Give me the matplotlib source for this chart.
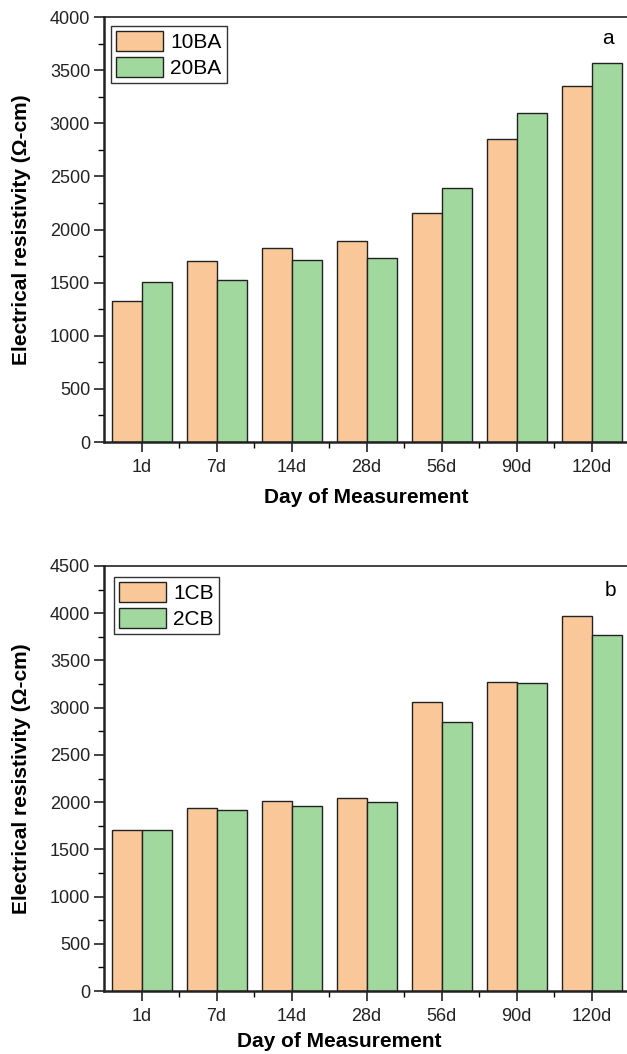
import matplotlib
matplotlib.use("Agg")
import matplotlib.pyplot as plt
import numpy as np

plt.rcParams['font.family'] = ['Liberation Sans', 'DejaVu Sans']

days = ["1d", "7d", "14d", "28d", "56d", "90d", "120d"]

# Panel a
a_labels = ["10BA", "20BA"]
a_10BA = [1324, 1706, 1823, 1889, 2158, 2855, 3351]
a_20BA = [1503, 1521, 1709, 1732, 2393, 3094, 3567]

# Panel b
b_labels = ["1CB", "2CB"]
b_1CB = [1703, 1936, 2017, 2042, 3056, 3268, 3967]
b_2CB = [1705, 1918, 1957, 1996, 2850, 3265, 3766]

orange = "#FAC898"
green = "#A0D89D"

W, H = 627, 1054
fig = plt.figure(figsize=(W / 100, H / 100), dpi=100)


def px_axes(left, top, right, bottom):
    return fig.add_axes([left / W, 1 - bottom / H, (right - left) / W, (bottom - top) / H])


def panel(ax, s1, s2, labels, ymax, letter, xlabel_xy, leg_anchor):
    x = np.arange(len(days))
    w = 0.4
    ax.bar(x - w / 2, s1, width=w, color=orange, edgecolor="#222222", linewidth=1.0, label=labels[0])
    ax.bar(x + w / 2, s2, width=w, color=green, edgecolor="#222222", linewidth=1.0, label=labels[1])
    ax.set_xlim(-0.5, 6.5)
    ax.set_ylim(0, ymax)
    ax.set_xticks(x)
    ax.set_xticklabels(days)
    ax.set_xticks(x[:-1] + 0.5, minor=True)
    ax.set_yticks(np.arange(0, ymax + 1, 500))
    ax.set_yticks(np.arange(250, ymax, 500), minor=True)
    ax.tick_params(axis='both', which='major', direction='out', length=7, width=1.2,
                   labelsize=13, colors='#222222', pad=3)
    ax.tick_params(axis='both', which='minor', direction='out', length=4, width=1.0)
    ax.tick_params(axis='x', which='major', pad=5)
    for sp in ['left', 'bottom']:
        ax.spines[sp].set_linewidth(1.8)
    ax.spines['top'].set_linewidth(1.2)
    ax.spines['right'].set_linewidth(1.2)
    for sp in ax.spines.values():
        sp.set_color('#222222')
    ax.set_ylabel("Electrical resistivity (Ω-cm)", fontsize=15, fontweight='bold')
    ax.yaxis.set_label_coords((31 - 104) / 525, 0.5)
    ax.set_xlabel("Day of Measurement", fontsize=15, fontweight='bold')
    ax.xaxis.set_label_coords(*xlabel_xy)
    ax.text(letter[1], letter[2], letter[0], transform=ax.transAxes, fontsize=15,
            ha='center', va='center')
    leg = ax.legend(loc='upper left', bbox_to_anchor=leg_anchor, fontsize=15,
                    frameon=True, fancybox=False, edgecolor='#333333', framealpha=1,
                    handlelength=2.25, handleheight=1.05, labelspacing=0.25,
                    borderpad=0.25, handletextpad=0.35, borderaxespad=0.0)
    leg.get_frame().set_linewidth(1.0)


ax1 = px_axes(104, 17, 629, 442)
panel(ax1, a_10BA, a_20BA, a_labels, 4000, ("a", (608 - 104) / 525, 1 - (39 - 17) / 425),
      ((366 - 104) / 525, -46 / 425), ((111 - 104) / 525, 1 - (26 - 17) / 425))

ax2 = px_axes(104, 566, 629, 991)
panel(ax2, b_1CB, b_2CB, b_labels, 4500, ("b", (610 - 104) / 525, 1 - (590 - 566) / 425),
      ((339 - 104) / 525, -41 / 425), ((114 - 104) / 525, 1 - (577 - 566) / 425))

fig.savefig("out.png", dpi=100)
